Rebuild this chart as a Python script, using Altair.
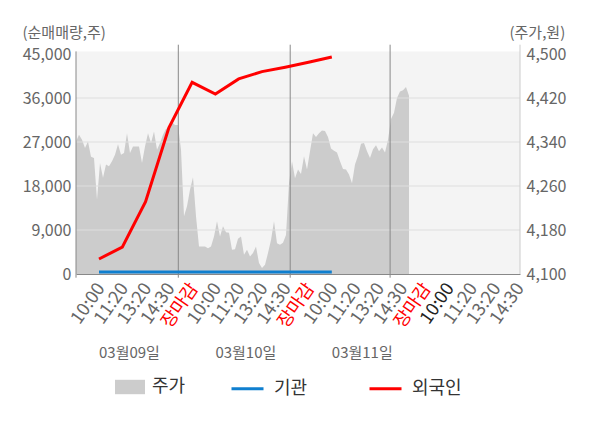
import altair as alt
import pandas as pd

FONT = "Noto Sans CJK KR"

# ---- data ----
tick_labels = ["10:00", "11:20", "13:20", "14:30", "장마감",
               "10:00", "11:20", "13:20", "14:30", "장마감",
               "10:00", "11:20", "13:20", "14:30", "장마감",
               "10:00", "11:20", "13:20", "14:30"]
current_idx = 15

dates = ["03월09일", "03월10일", "03월11일"]
date_idx = [0, 5, 10]

line_idx = [0, 1, 2, 3, 4, 5, 6, 7, 8, 9, 10]
foreign = [3070, 5500, 14800, 29900, 39200, 36800, 39900, 41400, 42300, 43300, 44400]
institution = [400, 400, 400, 400, 400, 400, 400, 400, 400, 400, 400]

price = [4341, 4353, 4344, 4329, 4341, 4313, 4311, 4235, 4302, 4275,
         4299, 4296, 4305, 4317, 4336, 4317, 4320, 4356, 4320, 4332,
         4332, 4332, 4302, 4332, 4356, 4338, 4359, 4326, 4338, 4353,
         4364, 4365, 4376, 4371, 4371,
         4326, 4205, 4223, 4253, 4276, 4205, 4150, 4150, 4150, 4147,
         4150, 4168, 4196, 4168, 4187, 4176, 4175, 4144, 4145, 4164,
         4168, 4135, 4144, 4132, 4138, 4150, 4120, 4111, 4117, 4138,
         4162, 4196, 4156, 4153, 4157, 4171,
         4265, 4305, 4274, 4290, 4282, 4314, 4290, 4323, 4356, 4349,
         4356, 4361, 4360, 4349, 4328, 4324, 4321, 4305, 4291, 4290,
         4281, 4265, 4299, 4315, 4337, 4338, 4323, 4311, 4327, 4334,
         4323, 4330, 4321, 4344,
         4382, 4393, 4420, 4432, 4434, 4440, 4424]
day_breaks = [34.1, 71.4, 104.7]

vol_ticks = [0, 9000, 18000, 27000, 36000, 45000]
grid_vals = [9000, 18000, 27000, 36000]
price_ticks = [4100, 4180, 4260, 4340, 4420, 4500]

# ---- tables ----
W, H = 444, 220
price_df = pd.DataFrame({"t": list(range(len(price))), "price": price, "name": "주가"})
lines_df = pd.DataFrame({
    "i": line_idx * 2,
    "v": institution + foreign,
    "series": ["기관"] * len(line_idx) + ["외국인"] * len(line_idx),
})
breaks_df = pd.DataFrame({"b": day_breaks})
grid_df = pd.DataFrame({"g": grid_vals})
dates_df = pd.DataFrame({"i": date_idx, "d": dates})

price_x = alt.Scale(domain=[0, 148], nice=False, zero=False)
line_x = alt.Scale(domain=[-0.988, 18.084], nice=False, zero=False)
vol_y = alt.Scale(domain=[0, 45000], nice=False, zero=False)
price_y = alt.Scale(domain=[4100, 4500], nice=False, zero=False)

red_idx = [i for i, t in enumerate(tick_labels) if t == "장마감"]
label_expr = "[" + ",".join("'" + t + "'" for t in tick_labels) + "][datum.value]"
red_test = " || ".join("datum.value == %d" % i for i in red_idx)

bg = alt.Chart(pd.DataFrame({"a": [0]})).mark_rect(color="#f4f4f4").encode(
    x=alt.value(0), x2=alt.value(W), y=alt.value(-2.6), y2=alt.value(H)
)

area = alt.Chart(price_df).mark_area(opacity=1).encode(
    x=alt.X("t:Q", scale=price_x, axis=None),
    y=alt.Y("price:Q", scale=price_y,
            axis=alt.Axis(orient="right", values=price_ticks, format=",.0f", ticks=False,
                          domain=False, grid=False, labelPadding=6, labelFontSize=16,
                          labelColor="#666", title="(주가,원)", titleAngle=0,
                          titleAlign="left", titleBaseline="middle", titleX=-11,
                          titleY=-22, titleFontSize=15, titleFontWeight="normal",
                          titleColor="#666")),
    y2=alt.datum(4100),
    fill=alt.Fill("name:N", scale=alt.Scale(domain=["주가"], range=["#cccccc"]),
                  legend=alt.Legend(orient="none", legendX=39, legendY=318, title=None,
                                    symbolType="M-1,-0.48H1V0.48H-1Z", symbolSize=900,
                                    symbolStrokeWidth=0, labelFontSize=18,
                                    labelColor="#333", labelOffset=7, padding=0)),
)

grid = alt.Chart(grid_df).mark_rule(color="#dedede", strokeWidth=1).encode(
    y=alt.Y("g:Q", scale=vol_y, axis=None)
)

seps = alt.Chart(breaks_df).mark_rule(color="#888888", strokeWidth=1).encode(
    x=alt.X("b:Q", scale=price_x, axis=None), y=alt.value(-9.3), y2=alt.value(H + 3.7)
)

left_line = alt.Chart(pd.DataFrame({"a": [0]})).mark_rule(color="#888888", strokeWidth=1).encode(
    x=alt.value(0), y=alt.value(-2.6), y2=alt.value(H + 3.7)
)
right_line = alt.Chart(pd.DataFrame({"a": [0]})).mark_rule(color="#cccccc", strokeWidth=1).encode(
    x=alt.value(W), y=alt.value(-9.3), y2=alt.value(H)
)

lines = alt.Chart(lines_df).mark_line(strokeWidth=3).encode(
    x=alt.X("i:Q", scale=line_x,
            axis=alt.Axis(values=list(range(len(tick_labels))), labelExpr=label_expr,
                          labelAngle=-55, labelAlign="right", labelBaseline="middle",
                          labelPadding=11, labelOffset=2, labelFontSize=18, ticks=False,
                          grid=False, domain=True, domainColor="#888888", labelOverlap=False,
                          labelBound=False,
                          labelColor={"condition": [{"test": red_test, "value": "#ff0000"},
                                                    {"test": "datum.value == %d" % current_idx,
                                                     "value": "#222222"}],
                                      "value": "#666666"},
                          title=None)),
    y=alt.Y("v:Q", scale=vol_y,
            axis=alt.Axis(values=vol_ticks, format=",.0f", ticks=False, domain=False, grid=False,
                          labelPadding=5, labelFontSize=16, labelColor="#666",
                          title="(순매매량,주)", titleAngle=0, titleAlign="left",
                          titleBaseline="middle", titleX=-54, titleY=-22, titleFontSize=15,
                          titleFontWeight="normal", titleColor="#666")),
    stroke=alt.Stroke("series:N",
                      scale=alt.Scale(domain=["기관", "외국인"], range=["#0f7fcf", "#ff0000"]),
                      legend=alt.Legend(orient="none", legendX=154, legendY=317, title=None,
                                        direction="horizontal", columns=2, symbolType="stroke",
                                        symbolSize=1024, symbolStrokeWidth=3, labelFontSize=18,
                                        labelColor="#333", labelOffset=9, columnPadding=55,
                                        padding=0)),
)

date_text = alt.Chart(dates_df).mark_text(align="left", baseline="middle", fontSize=15,
                                          color="#666", font=FONT).encode(
    x=alt.X("i:Q", scale=line_x, axis=None), y=alt.value(299), text="d:N"
)

chart = alt.layer(bg, area, grid, seps, left_line, right_line, lines, date_text).resolve_scale(
    x="independent", y="independent"
).properties(
    width=W, height=H,
    autosize=alt.AutoSizeParams(type="none"),
    padding={"left": 68, "top": 46, "right": 72, "bottom": 142},
).configure(font=FONT).configure_view(stroke=None)

chart.save("out.html", embed_options={"renderer": "svg", "actions": False})
